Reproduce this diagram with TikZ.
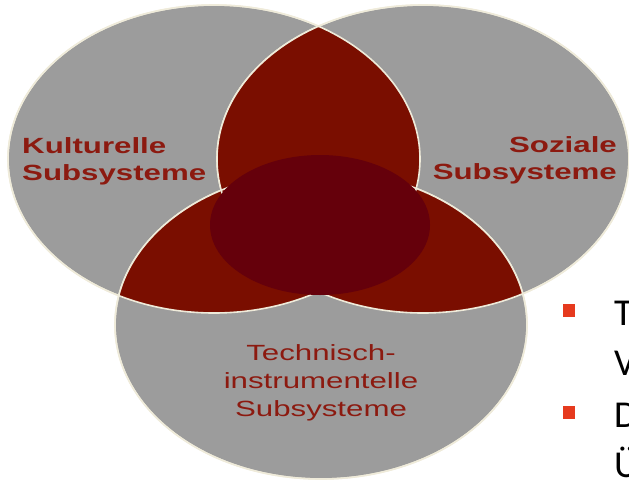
\documentclass[tikz,border=0pt]{standalone}
\usepackage{graphicx}
\usepackage{fontspec}
\setmainfont{Liberation Sans}
\newfontfamily\bulletfont{Carlito}
\definecolor{ringgray}{HTML}{9C9C9C}
\definecolor{rimcream}{HTML}{EFEBDA}
\definecolor{lensred}{HTML}{7A0E00}
\definecolor{corered}{HTML}{65000B}
\definecolor{labelred}{HTML}{8C1A10}
\definecolor{bulletred}{HTML}{E63A1E}
\newcommand\wide[1]{\scalebox{1.42}[1]{#1}}

\begin{document}
\begin{tikzpicture}[x=1pt,y=-1pt,x radius=206,y radius=154,
    ring/.style={fill=ringgray,draw=rimcream,line width=1.6pt},
    rim/.style={draw=rimcream,line width=1.6pt},
    lens/.style={fill=lensred},
    core/.style={fill=corered},
    sublabel/.style={text=labelred,inner sep=0pt,font=\bfseries\fontsize{22}{27}\selectfont},
    bulletbox/.style={fill=bulletred,minimum size=12.5pt,inner sep=0pt},
    bullettext/.style={inner sep=0pt,anchor=west,align=left,font=\bulletfont\fontsize{38}{50}\selectfont}]
    \useasboundingbox (0,0) rectangle (629,480);
    \clip (0,0) rectangle (629,480);
    \coordinate (kult) at (214,159);
    \coordinate (soz) at (423,159);
    \coordinate (tech) at (321,325);
    \foreach \c in {kult,soz,tech}
        \path[ring] (\c) ellipse;
    \begin{scope}
        \clip (kult) ellipse;
        \fill[lens] (soz) ellipse;
        \fill[lens] (tech) ellipse;
    \end{scope}
    \begin{scope}
        \clip (soz) ellipse;
        \fill[lens] (tech) ellipse;
    \end{scope}
    \foreach \c in {kult,soz,tech}
        \path[rim] (\c) ellipse;
    \fill[core] (320,225) ellipse [x radius=110,y radius=70];
    \node[sublabel,anchor=west,align=left] (kultlabel) at (22,161)
        {\wide{Kulturelle}\\\wide{Subsysteme}};
    \node[sublabel,anchor=east,align=right] (sozlabel) at (617,160)
        {\wide{Soziale}\\\wide{Subsysteme}};
    \node[sublabel,font=\fontsize{22}{28}\selectfont,align=center] (techlabel) at (321,383)
        {\wide{Technisch-}\\\wide{instrumentelle}\\\wide{Subsysteme}};
    \node[bulletbox] (first) at (569,310.5) {};
    \node[bulletbox] (second) at (569,412.5) {};
    \node[bullettext] (firsttext) at (614,338) {T\\V};
    \node[bullettext] (secondtext) at (614,440) {D\\Ü};
\end{tikzpicture}
\end{document}
